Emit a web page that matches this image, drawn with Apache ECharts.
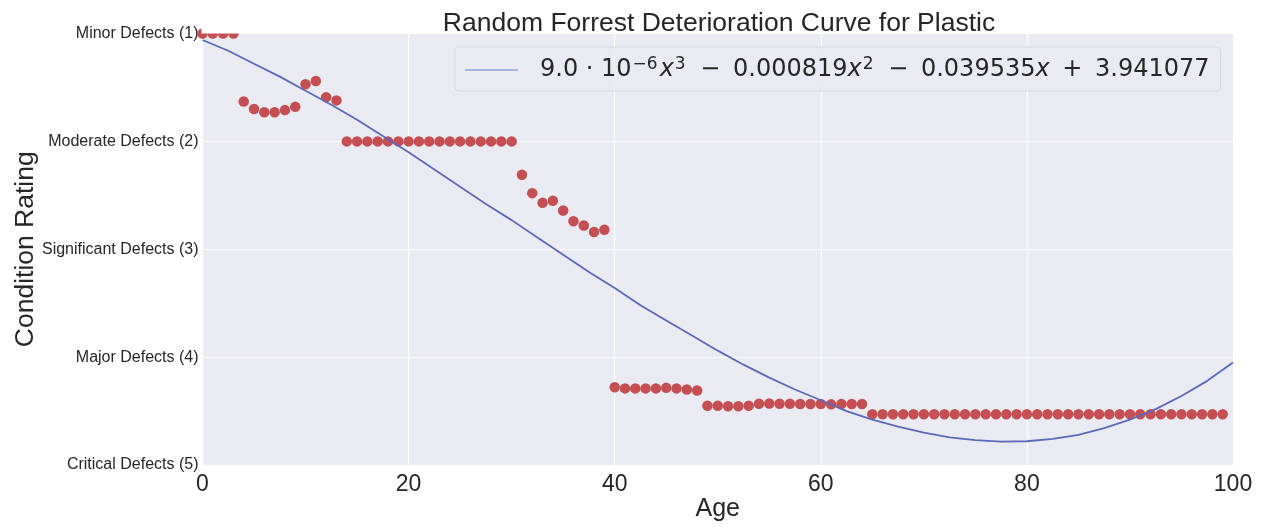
<!DOCTYPE html>
<html>
<head>
<meta charset="utf-8">
<title>Random Forrest Deterioration Curve for Plastic</title>
<script src="https://cdn.jsdelivr.net/npm/echarts@6/dist/echarts.min.js"></script>
<style>
  html, body { margin: 0; padding: 0; background: #fff; }
  #chart { width: 1267px; height: 527px; }
</style>
</head>
<body>
<div id="chart"></div>
<script>
// condition rating labels, bottom (0) to top (4)
var yTickLabels = ['Critical Defects (5)', 'Major Defects (4)', 'Significant Defects (3)', 'Moderate Defects (2)', 'Minor Defects (1)'];

// scatter: age 0..99
var ages = [];
for (var a = 0; a < 100; a++) ages.push(a);
var ratings = [
  4, 4, 4, 4, 3.37, 3.30, 3.27, 3.27, 3.29, 3.32,
  3.53, 3.56, 3.41, 3.38, 3, 3, 3, 3, 3, 3,
  3, 3, 3, 3, 3, 3, 3, 3, 3, 3,
  3, 2.69, 2.52, 2.43, 2.45, 2.36, 2.26, 2.22, 2.16, 2.18,
  0.72, 0.71, 0.71, 0.71, 0.71, 0.715, 0.71, 0.70, 0.69, 0.55,
  0.55, 0.545, 0.545, 0.55, 0.568, 0.57, 0.568, 0.568, 0.565, 0.565,
  0.565, 0.562, 0.565, 0.565, 0.565, 0.47, 0.47, 0.47, 0.47, 0.47,
  0.47, 0.47, 0.47, 0.47, 0.47, 0.47, 0.47, 0.47, 0.47, 0.47,
  0.47, 0.47, 0.47, 0.47, 0.47, 0.47, 0.47, 0.47, 0.47, 0.47,
  0.47, 0.47, 0.47, 0.47, 0.47, 0.47, 0.47, 0.47, 0.47, 0.47
];

// fitted curve, read every 2.5 years
var curveAges = [
  0, 2.5, 5, 7.5, 10, 12.5, 15, 17.5, 20, 22.5,
  25, 27.5, 30, 32.5, 35, 37.5, 40, 42.5, 45, 47.5,
  50, 52.5, 55, 57.5, 60, 62.5, 65, 67.5, 70, 72.5,
  75, 77.5, 80, 82.5, 85, 87.5, 90, 92.5, 95, 97.5, 100
];
var curveValues = [
  3.94, 3.84, 3.72, 3.60, 3.47, 3.34, 3.20, 3.05, 2.90, 2.74,
  2.58, 2.42, 2.27, 2.11, 1.95, 1.79, 1.64, 1.48, 1.34, 1.20,
  1.06, 0.93, 0.81, 0.70, 0.60, 0.50, 0.42, 0.355, 0.30, 0.257,
  0.23, 0.217, 0.22, 0.243, 0.28, 0.341, 0.42, 0.518, 0.64, 0.78, 0.95
];

var fitName = 'fit';

function drawChart() {
  var myChart = echarts.init(document.getElementById('chart'));

  var scatterData = ages.map(function (x, i) { return [x, ratings[i]]; });
  var curveData = curveAges.map(function (x, i) { return [x, curveValues[i]]; });

  var option = {
    backgroundColor: '#fff',
    animation: false,
    title: {
      text: 'Random Forrest Deterioration Curve for Plastic',
      left: 714,
      textAlign: 'center',
      top: 5,
      textStyle: {
        fontFamily: 'Liberation Sans',
        fontSize: 26.5,
        fontWeight: 'normal',
        color: '#262626'
      }
    },
    grid: {
      left: 202.5,
      right: 34,
      top: 33.5,
      bottom: 62,
      outerBoundsMode: 'none',
      containLabel: false,
      show: true,
      backgroundColor: '#EAEAF2',
      borderWidth: 0
    },
    legend: {
      left: 455,
      top: 47,
      padding: [9, 11, 9, 10],
      backgroundColor: 'rgba(234,234,242,0.8)',
      borderColor: '#d8d8e0',
      borderWidth: 1,
      borderRadius: 4,
      itemWidth: 53,
      itemHeight: 2,
      data: [{ name: fitName, icon: 'rect', itemStyle: { color: '#a6b7de' } }],
      formatter: function () {
        return '{f|9.0}{d| · }{n|10}{s|−6}{i|x}{s|3}{o| − }{n|0.000819}{i|x}{s|2}{o| − }'
          + '{n|0.039535}{i|x}{o| + }{n|3.941077}';
      },
      textStyle: {
        rich: {
          f: { fontFamily: 'DejaVu Sans', fontSize: 24, color: '#262626', lineHeight: 28, padding: [0, 0, 0, 17] },
          n: { fontFamily: 'DejaVu Sans', fontSize: 24, color: '#262626', lineHeight: 28 },
          d: { fontFamily: 'DejaVu Sans', fontSize: 24, color: '#262626', lineHeight: 28 },
          o: { fontFamily: 'DejaVu Sans', fontSize: 24, color: '#262626', lineHeight: 28, padding: [0, 5, 0, 5] },
          i: { fontFamily: 'DejaVu Sans', fontStyle: 'italic', fontSize: 24, color: '#262626', lineHeight: 28 },
          s: { fontFamily: 'DejaVu Sans', fontSize: 17, color: '#262626', lineHeight: 28, verticalAlign: 'top', padding: [0, 2, 0, 1] }
        }
      }
    },
    xAxis: {
      type: 'value',
      min: 0,
      max: 100,
      interval: 20,
      name: 'Age',
      nameLocation: 'middle',
      nameGap: 32,
      nameMoveOverlap: false,
      nameTextStyle: { fontFamily: 'Liberation Sans', fontSize: 25, color: '#262626' },
      axisLine: { show: false },
      axisTick: { show: false },
      axisLabel: { fontFamily: 'Liberation Sans', fontSize: 23, color: '#262626', margin: 8 },
      splitLine: { lineStyle: { color: '#fff', width: 1.2 } }
    },
    yAxis: {
      type: 'value',
      min: 0,
      max: 4,
      interval: 1,
      name: 'Condition Rating',
      nameLocation: 'middle',
      nameGap: 163,
      nameMoveOverlap: false,
      nameTextStyle: { fontFamily: 'Liberation Sans', fontSize: 26.5, color: '#262626' },
      axisLine: { show: false },
      axisTick: { show: false },
      axisLabel: {
        fontFamily: 'Liberation Sans',
        fontSize: 16,
        color: '#262626',
        margin: 4,
        formatter: function (v) { return yTickLabels[Math.round(v)]; }
      },
      splitLine: { lineStyle: { color: '#fff', width: 1.2 } }
    },
    series: [
      {
        name: 'ratings',
        type: 'scatter',
        symbolSize: 10.5,
        itemStyle: { color: '#C44E52', opacity: 1 },
        z: 2,
        data: scatterData
      },
      {
        name: fitName,
        type: 'line',
        smooth: false,
        showSymbol: false,
        symbol: 'none',
        lineStyle: { color: '#5b69b9', width: 1.8 },
        itemStyle: { color: '#5b69b9' },
        z: 3,
        data: curveData
      }
    ]
  };

  myChart.clear();
  myChart.setOption(option);

  // dots are clipped at the top edge of the plot, as in the original
  var tl = myChart.convertToPixel({ gridIndex: 0 }, [0, 4]);
  var tr = myChart.convertToPixel({ gridIndex: 0 }, [100, 4]);
  myChart.setOption({
    graphic: [{
      type: 'rect',
      z: 4,
      silent: true,
      shape: { x: tl[0] - 1, y: 0, width: tr[0] - tl[0] + 2, height: tl[1] },
      style: { fill: '#fff' }
    }]
  });

  window.addEventListener('resize', function () {
    myChart.resize();
  });
}
drawChart();
</script>
</body>
</html>
